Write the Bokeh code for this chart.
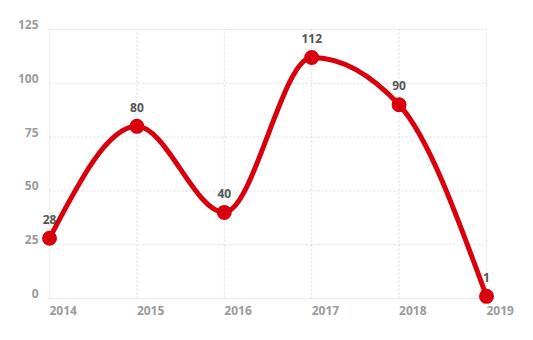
import numpy as np
from bokeh.plotting import figure
from bokeh.models import ColumnDataSource
from bokeh.core.properties import value
from bokeh.embed import file_html
from bokeh.resources import INLINE

# ---- data ----
years = [2014, 2015, 2016, 2017, 2018, 2019]
values = [28, 80, 40, 112, 90, 1]
y_ticks = [0, 25, 50, 75, 100, 125]
x_tick_labels = ["2014", "2015", "2016", "2017", "2018", "2019"]
y_tick_labels = ["0", "25", "50", "75", "100", "125"]

# ---- layout (pixel mapping) ----
W, H = 533, 340
px_left, px_right = 49, 486
px_zero, px_top = 298, 29
xs = (px_right - px_left) / (years[-1] - years[0])
ys = (px_zero - px_top) / (y_ticks[-1] - y_ticks[0])
x_start = years[0] - px_left / xs
x_end = x_start + W / xs
y_end = y_ticks[0] + px_zero / ys
y_start = y_end - H / ys

p = figure(width=W, height=H, x_range=(x_start, x_end), y_range=(y_start, y_end),
           output_backend="svg", toolbar_location=None, min_border=0)
p.axis.visible = False
p.grid.visible = False
p.outline_line_color = None
p.background_fill_color = "white"
p.border_fill_color = "white"

FONT = value("Open Sans")
grid_color = "#dcdcdc"

# grid lines
p.segment(x0=years, x1=years, y0=[y_ticks[0]] * len(years), y1=[y_ticks[-1]] * len(years),
          line_color=grid_color, line_width=1, line_dash="2 2")
p.segment(x0=[years[0]] * len(y_ticks), x1=[years[-1]] * len(y_ticks), y0=y_ticks, y1=y_ticks,
          line_color=grid_color, line_width=1, line_dash="2 2")

# axis tick labels
p.text(x=[years[0]] * len(y_ticks), y=y_ticks, text=y_tick_labels, x_offset=-11, y_offset=-5,
       text_align="right", text_baseline="middle", text_font=FONT, text_font_size="12px",
       text_font_style="bold", text_color="#9b9b9b")
p.text(x=years, y=[y_ticks[0]] * len(years), text=x_tick_labels, x_offset=0, y_offset=12,
       text_align="left", text_baseline="middle", text_font=FONT, text_font_size="12px",
       text_font_style="bold", text_color="#9b9b9b")

# monotone-x cubic (d3 curveMonotoneX) control points
x = np.array(years, dtype=float)
y = np.array(values, dtype=float)
n = len(x)
h = np.diff(x)
s = np.diff(y) / h
t = np.zeros(n)
for i in range(1, n - 1):
    h0, h1, s0, s1 = h[i - 1], h[i], s[i - 1], s[i]
    pp = (s0 * h1 + s1 * h0) / (h0 + h1)
    t[i] = (np.sign(s0) + np.sign(s1)) * min(abs(s0), abs(s1), 0.5 * abs(pp))
t[0] = (3 * s[0] - t[1]) / 2
t[-1] = (3 * s[-1] - t[-2]) / 2
cx0 = x[:-1] + h / 3
cy0 = y[:-1] + h * t[:-1] / 3
cx1 = x[1:] - h / 3
cy1 = y[1:] - h * t[1:] / 3

red = "#d9000d"
p.bezier(x0=x[:-1], y0=y[:-1], x1=x[1:], y1=y[1:], cx0=cx0, cy0=cy0, cx1=cx1, cy1=cy1,
         line_color=red, line_width=5, line_cap="round")

src = ColumnDataSource(dict(x=years, y=values, lab=[str(v) for v in values]))
p.scatter("x", "y", source=src, size=15, fill_color=red, line_color=red, line_width=0)
p.text("x", "y", text="lab", source=src, y_offset=-19, text_align="center",
       text_baseline="middle", text_font=FONT, text_font_size="12px", text_font_style="bold",
       text_color="#555555")

open("out.html", "w").write(file_html(p, INLINE))
